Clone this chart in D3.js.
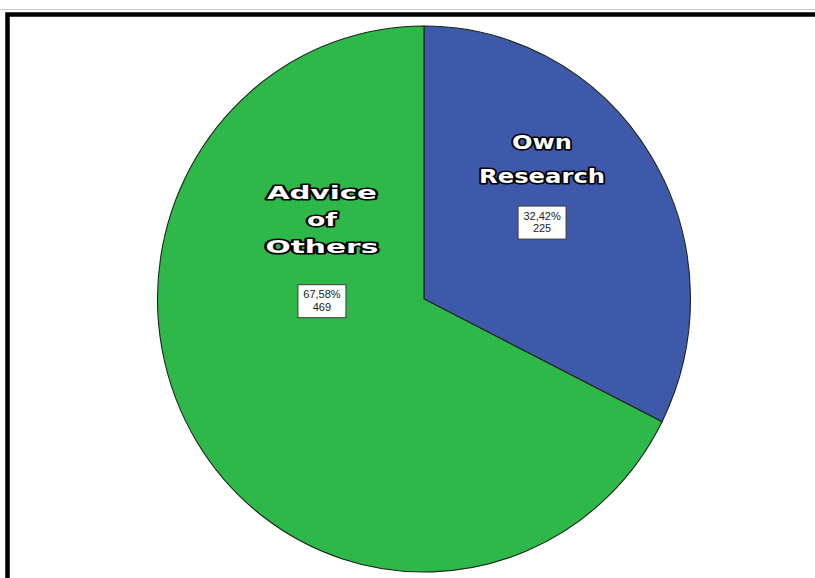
<!DOCTYPE html>
<html><head><meta charset="utf-8">
<script src="https://cdn.jsdelivr.net/npm/d3@7"></script>
<style>html,body{margin:0;padding:0;background:#fff;}svg{display:block;}</style>
</head><body>
<svg id="chart" width="815" height="578"></svg>
<script>
const categories = ["Own Research", "Advice of Others"];
const counts = [225, 469];
const percentLabels = ["32,42%", "67,58%"];
const nameLines = [["Own", "Research"], ["Advice", "of", "Others"]];
const colors = ["#3f59aa", "#2eb84a"];

const svg = d3.select("#chart");
const W = 815, H = 578;

// frame
svg.append("line").attr("x1",0).attr("x2",W).attr("y1",9.5).attr("y2",9.5).attr("stroke","#c8c8c8").attr("stroke-width",1);
svg.append("path").attr("d",`M${W},14.5 L7.5,14.5 L7.5,${H}`).attr("fill","none").attr("stroke","#000").attr("stroke-width",4.5);

const cx = 424, cy = 299, rx = 266.5, ry = 273;
const pie = d3.pie().sort(null).value(d => d)(counts);
const arc = d3.arc().innerRadius(0).outerRadius(rx);

const g = svg.append("g").attr("transform", `translate(${cx},${cy}) scale(1,${ry/rx})`);
g.selectAll("path").data(pie).join("path")
  .attr("d", arc)
  .attr("fill", (d,i) => colors[i])
  .attr("stroke", "#1a241a")
  .attr("stroke-width", 1.1)
  .attr("vector-effect", "non-scaling-stroke");

// name labels (outlined)
const nameLayout = [
  {dx: 0.443, y0: -0.549, size: 20, gap: 34, widths: [60, 126]},
  {dx: -0.383, y0: -0.366, size: 17, gap: 27, widths: [110, 30, 113]}
];
nameLines.forEach((lines, i) => {
  const L = nameLayout[i];
  lines.forEach((t, j) => {
    svg.append("text")
      .attr("x", cx + L.dx * rx)
      .attr("y", cy + L.y0 * ry + j * L.gap)
      .attr("text-anchor", "middle")
      .attr("font-family", "DejaVu Sans, sans-serif")
      .attr("font-weight", "bold")
      .attr("font-size", L.size)
      .attr("textLength", L.widths[j])
      .attr("lengthAdjust", "spacingAndGlyphs")
      .attr("fill", "#fff")
      .attr("stroke", "#000")
      .attr("stroke-width", 3.2)
      .attr("stroke-linejoin", "round")
      .attr("paint-order", "stroke")
      .text(t);
  });
});

// value boxes
const boxLayout = [{dx: 0.443, dy: -0.28}, {dx: -0.383, dy: 0.008}];
counts.forEach((c, i) => {
  const bx = cx + boxLayout[i].dx * rx, by = cy + boxLayout[i].dy * ry;
  const bw = 48, bh = 33;
  svg.append("rect").attr("x", bx - bw/2).attr("y", by - bh/2).attr("width", bw).attr("height", bh)
    .attr("fill", "#fff").attr("stroke", "#3a3a3a").attr("stroke-width", 1);
  [percentLabels[i], String(c)].forEach((t, j) => {
    svg.append("text").attr("x", bx).attr("y", by - 3 + j * 12.6)
      .attr("text-anchor", "middle")
      .attr("font-family", "Liberation Sans, Arial, sans-serif")
      .attr("font-size", 11).attr("fill", "#222").text(t);
  });
});
</script>
</body></html>
